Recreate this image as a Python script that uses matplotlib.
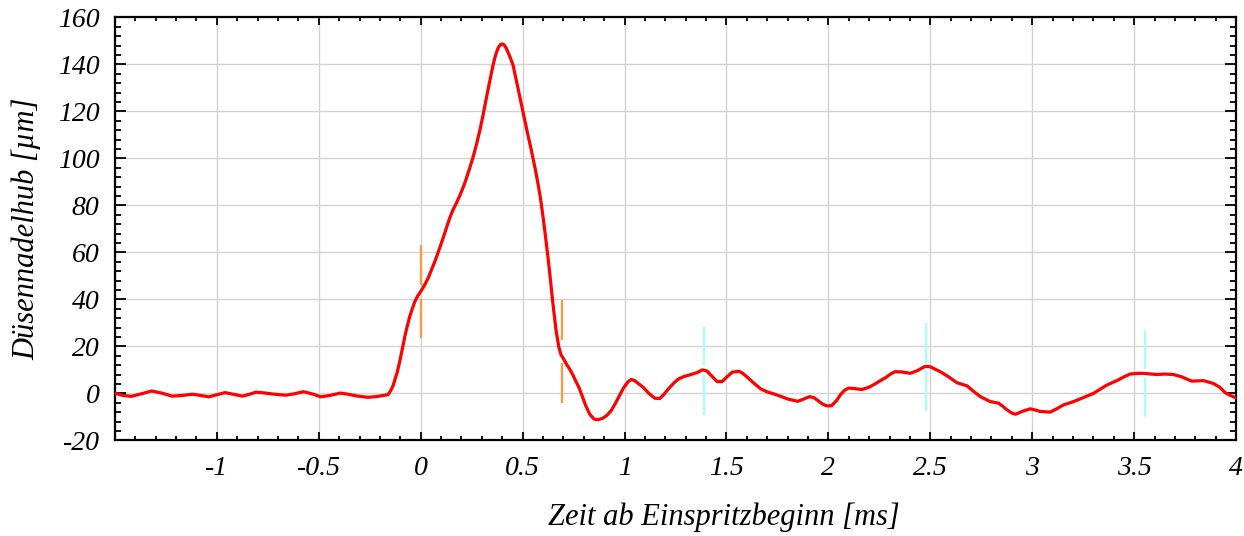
import matplotlib
matplotlib.use("Agg")
import matplotlib.pyplot as plt
from matplotlib.ticker import MultipleLocator, FixedLocator

# ---- data ----
time_ms = [-1.50, -1.46, -1.42, -1.37, -1.32, -1.27, -1.22, -1.17, -1.12, -1.08, -1.04,
           -1.00, -0.96, -0.92, -0.874, -0.84, -0.808, -0.77, -0.726, -0.69, -0.66,
           -0.62, -0.575, -0.53, -0.49, -0.44, -0.395, -0.355, -0.316, -0.26, -0.22,
           -0.185, -0.161, -0.15, -0.136, -0.127, -0.115, -0.103, -0.09, -0.078, -0.066,
           -0.054, -0.04, -0.029, -0.015, 0.0, 0.018, 0.036, 0.052, 0.069, 0.085, 0.101,
           0.12, 0.142, 0.158, 0.175, 0.196, 0.216, 0.240, 0.257, 0.273, 0.29, 0.306,
           0.318, 0.330, 0.343, 0.355, 0.367, 0.379, 0.390, 0.400, 0.410, 0.420, 0.436,
           0.453, 0.465, 0.477, 0.490, 0.502, 0.514, 0.526, 0.539, 0.551, 0.563, 0.575,
           0.588, 0.600, 0.612, 0.624, 0.635, 0.645, 0.655, 0.665, 0.678, 0.689, 0.700,
           0.714, 0.730, 0.747, 0.760, 0.777, 0.795, 0.810, 0.830, 0.851, 0.872, 0.893,
           0.913, 0.934, 0.955, 0.975, 0.995, 1.017, 1.033, 1.05, 1.07, 1.091, 1.12,
           1.149, 1.173, 1.195, 1.215, 1.24, 1.264, 1.29, 1.322, 1.355, 1.383, 1.404,
           1.43, 1.454, 1.479, 1.505, 1.528, 1.561, 1.58, 1.602, 1.635, 1.668, 1.70,
           1.734, 1.77, 1.80, 1.85, 1.88, 1.908, 1.93, 1.949, 1.97, 1.99, 2.015, 2.04,
           2.06, 2.081, 2.10, 2.122, 2.163, 2.20, 2.229, 2.255, 2.279, 2.312, 2.328,
           2.36, 2.402, 2.44, 2.475, 2.50, 2.549, 2.59, 2.631, 2.680, 2.71, 2.745,
           2.794, 2.835, 2.855, 2.876, 2.90, 2.917, 2.93, 2.95, 2.99, 3.015, 3.039,
           3.088, 3.12, 3.154, 3.20, 3.235, 3.301, 3.366, 3.415, 3.45, 3.48, 3.52,
           3.546, 3.611, 3.65, 3.693, 3.734, 3.76, 3.783, 3.81, 3.840, 3.889, 3.92,
           3.946, 3.975, 4.005]
lift_um = [0.0, -0.9, -1.3, -0.2, 1.0, 0.1, -1.2, -0.9, -0.4, -0.9, -1.5,
           -0.6, 0.3, -0.4, -1.2, -0.4, 0.5, 0.2, -0.3, -0.6, -0.8,
           -0.2, 0.7, -0.3, -1.5, -0.8, 0.1, -0.4, -1.1, -1.7, -1.4,
           -0.9, -0.6, 0.7, 3.1, 5.7, 9.0, 13.5, 19.0, 24.1, 28.6,
           32.6, 36.3, 39.0, 41.4, 43.3, 45.9, 48.9, 52.3, 56.0, 59.8, 63.8,
           68.8, 74.5, 78.0, 80.9, 85.0, 89.4, 95.7, 100.5, 105.7, 111.8, 118.4,
           123.8, 129.1, 134.5, 139.7, 143.8, 146.8, 148.3, 148.7, 148.2, 146.8, 143.6,
           139.7, 134.8, 129.8, 124.8, 119.9, 114.9, 109.9, 105.0, 100.0, 95.0, 89.4,
           82.8, 75.2, 67.0, 58.2, 49.6, 41.1, 33.4, 26.2, 19.5, 16.3, 14.8,
           12.6, 10.4, 7.8, 5.3, 2.4, -1.8, -5.3, -9.0, -11.0, -11.2, -10.6,
           -9.4, -7.4, -4.3, -1.0, 2.3, 4.9, 5.9, 5.4, 4.0, 2.6, -0.1,
           -2.1, -2.2, -0.3, 1.9, 4.2, 6.1, 7.1, 7.9, 8.8, 10.0, 9.5,
           7.2, 5.0, 5.0, 7.2, 9.0, 9.4, 8.5, 6.9, 4.3, 1.9, 0.6,
           -0.3, -1.4, -2.4, -3.4, -2.4, -1.4, -1.9, -3.1, -4.5, -5.3, -5.3, -3.1,
           -0.5, 1.4, 2.2, 2.1, 1.6, 2.6, 4.0, 5.4, 6.6, 8.6, 9.2,
           9.1, 8.5, 9.8, 11.5, 11.3, 9.2, 7.0, 4.5, 3.2, 1.0, -1.4,
           -3.5, -4.2, -5.5, -7.0, -8.4, -8.9, -8.5, -7.7, -6.6, -7.1, -7.7,
           -8.0, -6.6, -4.9, -3.6, -2.4, 0.0, 3.5, 5.4, 7.0, 8.2, 8.5,
           8.5, 8.0, 8.2, 8.0, 7.0, 6.0, 5.2, 5.3, 5.4, 4.2, 2.6,
           0.3, -1.0, -2.1]

# marker segments: x position, (upper segment top, bottom), (lower segment top, bottom)
orange_x = [0.0, 0.695]
orange_upper = [(63.1, 46.1), (39.7, 22.8)]
orange_lower = [(40.1, 23.4), (12.8, -4.0)]
cyan_x = [1.391, 2.481, 3.553]
cyan_upper = [(28.3, 12.0), (29.8, 12.8), (26.6, 10.2)]
cyan_lower = [(7.8, -9.2), (9.5, -7.4), (6.4, -10.2)]

x_major = [-1.5, -1.0, -0.5, 0.0, 0.5, 1.0, 1.5, 2.0, 2.5, 3.0, 3.5, 4.0]
x_labels = ["", "-1", "-0.5", "0", "0.5", "1", "1.5", "2", "2.5", "3", "3.5", "4"]
y_major = [-20, 0, 20, 40, 60, 80, 100, 120, 140, 160]
y_labels = ["-20", "0", "20", "40", "60", "80", "100", "120", "140", "160"]

plt.rcParams['font.family'] = ['Liberation Serif', 'DejaVu Serif']
plt.rcParams['axes.unicode_minus'] = False

fig = plt.figure(figsize=(12.44, 5.36), dpi=100)
ax = fig.add_axes([0.0924, 0.1785, 0.9012, 0.7892])

ax.set_xlim(-1.5, 4.0)
ax.set_ylim(-20, 160)

ax.grid(True, which='major', color='#d3d3d3', linewidth=1.0)
ax.set_axisbelow(True)

for xv, up, lo in zip(orange_x, orange_upper, orange_lower):
    ax.plot([xv, xv], up, color='#ff9a3c', linewidth=1.6, solid_capstyle='butt', zorder=2)
    ax.plot([xv, xv], lo, color='#ff9a3c', linewidth=1.6, solid_capstyle='butt', zorder=2)
for xv, up, lo in zip(cyan_x, cyan_upper, cyan_lower):
    ax.plot([xv, xv], up, color='#a4ffff', linewidth=1.6, solid_capstyle='butt', zorder=2)
    ax.plot([xv, xv], lo, color='#a4ffff', linewidth=1.6, solid_capstyle='butt', zorder=2)

ax.plot(time_ms, lift_um, color='#ff0000', linewidth=2.3, solid_joinstyle='round',
        solid_capstyle='round', zorder=3)

ax.xaxis.set_major_locator(FixedLocator(x_major))
ax.set_xticklabels(x_labels)
ax.xaxis.set_minor_locator(MultipleLocator(0.1))
ax.yaxis.set_major_locator(FixedLocator(y_major))
ax.set_yticklabels(y_labels)
ax.yaxis.set_minor_locator(MultipleLocator(4))

ax.tick_params(axis='both', which='both', direction='in', top=True, right=True,
               width=1.3, color='black')
ax.tick_params(axis='x', which='major', length=5.5, pad=11, labelsize=20)
ax.tick_params(axis='x', which='minor', length=3)
ax.tick_params(axis='y', which='major', length=8, pad=11, labelsize=20)
ax.tick_params(axis='y', which='minor', length=4.5)
for lab in ax.get_xticklabels() + ax.get_yticklabels():
    lab.set_fontstyle('italic')

for sp in ax.spines.values():
    sp.set_linewidth(1.6)

ax.set_xlabel('Zeit ab Einspritzbeginn [ms]', fontsize=22, fontstyle='italic')
ax.xaxis.set_label_coords(0.543, -0.148)
ax.set_ylabel('Düsennadelhub [µm]', fontsize=22, fontstyle='italic')
ax.yaxis.set_label_coords(-0.066, 0.5)

fig.savefig('out.png', dpi=100)
